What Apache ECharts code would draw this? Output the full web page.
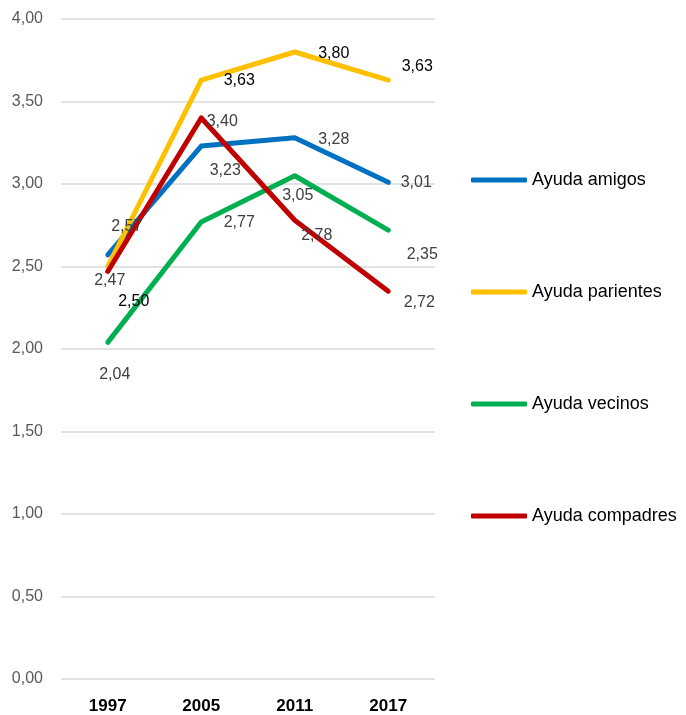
<!DOCTYPE html>
<html>
<head>
<meta charset="utf-8">
<script src="https://cdn.jsdelivr.net/npm/echarts@6/dist/echarts.min.js"></script>
<style>
  html, body { margin: 0; padding: 0; background: #fff; }
  #chart { width: 686px; height: 715px; }
</style>
</head>
<body>
<div id="chart"></div>
<script>
const years = ['1997', '2005', '2011', '2017'];
const amigos = [2.57, 3.23, 3.28, 3.01];
const parientes = [2.50, 3.63, 3.80, 3.63];
const vecinos = [2.04, 2.77, 3.05, 2.72];
const compadres = [2.47, 3.40, 2.78, 2.35];
const yTicks = [0, 0.5, 1, 1.5, 2, 2.5, 3, 3.5, 4];

// label offsets, like the manual placement in the original
const labelOffsets = {
    amigos: [[19, -28], [24, 25], [39, 2], [28, 0]],
    parientes: [[26, 35], [38, 1], [39, 2], [29, -13]],
    vecinos: [[7, 32], [38, 1], [3, 20], [31, 72]],
    compadres: [[2, 9], [21, 4], [22, 15], [34, -37]]
};

const FONT = 'Liberation Sans';

function fmt(v) {
    return Number(v).toFixed(2).replace('.', ',');
}

function makeSeries(name, values, color, offsets, labelColor) {
    return {
        name: name,
        type: 'line',
        symbol: 'circle',
        symbolSize: 1,
        itemStyle: { color: color },
        lineStyle: { width: 5, color: color, cap: 'round', join: 'round' },
        emphasis: { disabled: true },
        data: values.map((v, i) => ({
            value: v,
            label: { offset: offsets[i] }
        })),
        label: {
            show: true,
            position: 'inside',
            fontFamily: FONT,
            fontSize: 16,
            color: labelColor,
            formatter: p => fmt(p.value)
        },
        z: 2
    };
}

const myChart = echarts.init(document.getElementById('chart'));
const option = {
    animation: false,
    backgroundColor: '#fff',
    grid: {
        left: 61,
        right: 251,
        top: 19,
        bottom: 35
    },
    legend: {
        orient: 'vertical',
        left: 466,
        top: 166,
        itemWidth: 56,
        itemHeight: 5,
        itemGap: 94,
        icon: 'roundRect',
        textStyle: { fontFamily: FONT, fontSize: 18, color: '#000' },
        data: ['Ayuda amigos', 'Ayuda parientes', 'Ayuda vecinos', 'Ayuda compadres']
    },
    xAxis: {
        type: 'category',
        data: years,
        boundaryGap: true,
        axisLine: { show: false },
        axisTick: { show: false },
        axisLabel: {
            margin: 19,
            fontFamily: FONT,
            fontSize: 17,
            fontWeight: 'bold',
            color: '#000'
        }
    },
    yAxis: {
        type: 'value',
        min: yTicks[0],
        max: yTicks[yTicks.length - 1],
        interval: 0.5,
        axisLine: { show: false },
        axisTick: { show: false },
        splitLine: { lineStyle: { color: '#d9d9d9', width: 1.5 } },
        axisLabel: {
            margin: 18,
            fontFamily: FONT,
            fontSize: 16,
            color: '#595959',
            formatter: v => fmt(v)
        }
    },
    series: [
        makeSeries('Ayuda amigos', amigos, '#0070C0', labelOffsets.amigos, '#404040'),
        makeSeries('Ayuda parientes', parientes, '#FFC000', labelOffsets.parientes, '#000'),
        makeSeries('Ayuda vecinos', vecinos, '#00B050', labelOffsets.vecinos, '#404040'),
        makeSeries('Ayuda compadres', compadres, '#C00000', labelOffsets.compadres, '#404040')
    ]
};
myChart.setOption(option);
</script>
</body>
</html>
